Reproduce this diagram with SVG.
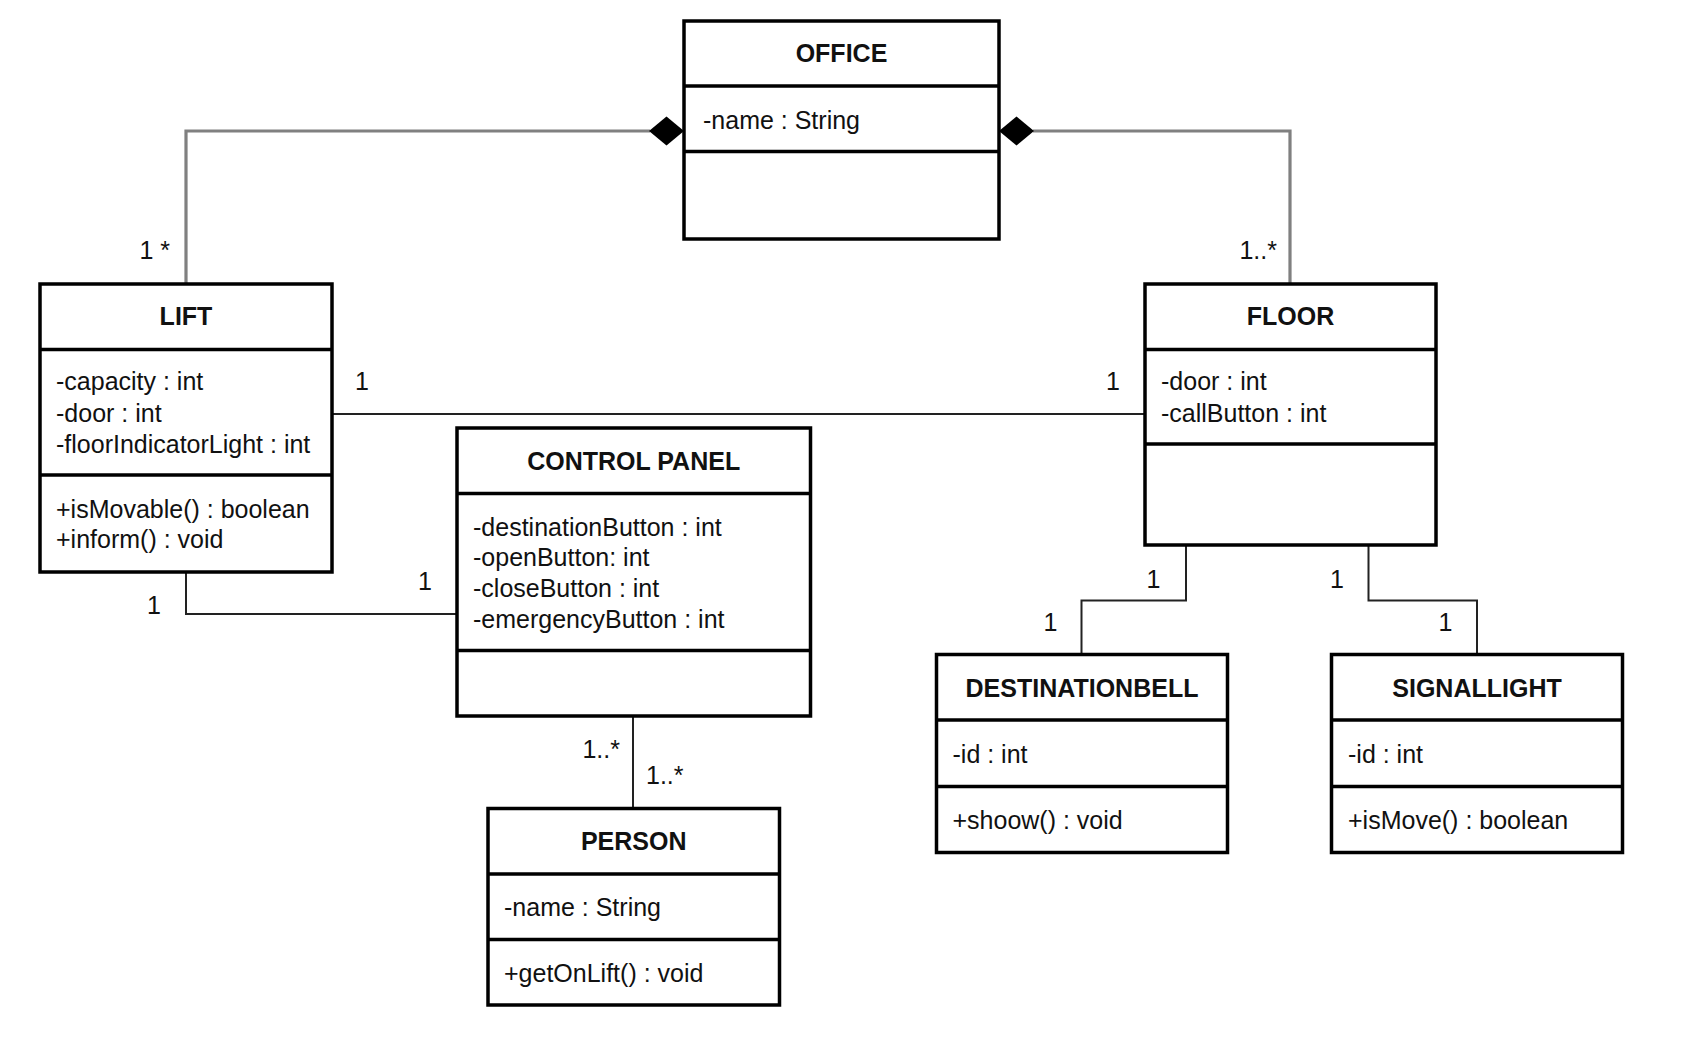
<svg xmlns="http://www.w3.org/2000/svg" width="1684" height="1038" viewBox="0 0 1684 1038">
<style>
.box{fill:#fff;stroke:#000;stroke-width:3.5}
.div{stroke:#000;stroke-width:3.5}
.t{font-family:"Liberation Sans",Arial,sans-serif;font-size:25px;fill:#111}
.h{font-family:"Liberation Sans",Arial,sans-serif;font-size:25px;font-weight:bold;fill:#111;text-anchor:middle}
.comp{fill:none;stroke:#808080;stroke-width:3.2}
.assoc{fill:none;stroke:#222;stroke-width:2}
.m{font-family:"Liberation Sans",Arial,sans-serif;font-size:25px;fill:#111}
.dia{fill:#000}
</style>
<rect width="1684" height="1038" fill="#fff"/>
<g id="connectors">
<polyline class="comp" points="650,131 186,131 186,284"/>
<polygon class="dia" points="649,131 666.5,116.5 684,131 666.5,145.5"/>
<polyline class="comp" points="1033,131 1290,131 1290,284"/>
<polygon class="dia" points="999,131 1016.5,116.5 1034,131 1016.5,145.5"/>
<line class="assoc" x1="332" y1="414" x2="1145" y2="414"/>
<polyline class="assoc" points="186,572 186,614 457,614"/>
<line class="assoc" x1="633" y1="716" x2="633" y2="808"/>
<polyline class="assoc" points="1186,545 1186,600.5 1081.5,600.5 1081.5,654.5"/>
<polyline class="assoc" points="1368.5,545 1368.5,600.5 1477,600.5 1477,654.5"/>
<text class="m" x="170" y="259" text-anchor="end">1 *</text>
<text class="m" x="1277" y="259" text-anchor="end">1..*</text>
<text class="m" x="362" y="390" text-anchor="middle">1</text>
<text class="m" x="1113" y="390" text-anchor="middle">1</text>
<text class="m" x="154" y="614" text-anchor="middle">1</text>
<text class="m" x="425" y="590" text-anchor="middle">1</text>
<text class="m" x="620" y="758" text-anchor="end">1..*</text>
<text class="m" x="646" y="784">1..*</text>
<text class="m" x="1153.5" y="588" text-anchor="middle">1</text>
<text class="m" x="1050.5" y="631" text-anchor="middle">1</text>
<text class="m" x="1337" y="588" text-anchor="middle">1</text>
<text class="m" x="1445.5" y="631" text-anchor="middle">1</text>
</g>
<g id="office">
<rect class="box" x="684" y="21" width="315" height="218"/>
<line class="div" x1="684" y1="86" x2="999" y2="86"/>
<line class="div" x1="684" y1="151.5" x2="999" y2="151.5"/>
<text class="h" x="841.5" y="62">OFFICE</text>
<text class="t" x="703" y="129">-name : String</text>
</g>
<g id="lift">
<rect class="box" x="40" y="284" width="292" height="288"/>
<line class="div" x1="40" y1="349.5" x2="332" y2="349.5"/>
<line class="div" x1="40" y1="475" x2="332" y2="475"/>
<text class="h" x="186" y="325">LIFT</text>
<text class="t" x="56" y="390">-capacity : int</text>
<text class="t" x="56" y="421.5">-door : int</text>
<text class="t" x="56" y="452.5">-floorIndicatorLight : int</text>
<text class="t" x="56" y="518">+isMovable() : boolean</text>
<text class="t" x="56" y="548">+inform() : void</text>
</g>
<g id="floor">
<rect class="box" x="1145" y="284" width="291" height="261"/>
<line class="div" x1="1145" y1="349.5" x2="1436" y2="349.5"/>
<line class="div" x1="1145" y1="444" x2="1436" y2="444"/>
<text class="h" x="1290.5" y="325">FLOOR</text>
<text class="t" x="1161" y="390">-door : int</text>
<text class="t" x="1161" y="421.5">-callButton : int</text>
</g>
<g id="controlpanel">
<rect class="box" x="457" y="428" width="353.5" height="288"/>
<line class="div" x1="457" y1="493.5" x2="810.5" y2="493.5"/>
<line class="div" x1="457" y1="650.5" x2="810.5" y2="650.5"/>
<text class="h" x="633.7" y="470">CONTROL PANEL</text>
<text class="t" x="473" y="535.5">-destinationButton : int</text>
<text class="t" x="473" y="565.5">-openButton: int</text>
<text class="t" x="473" y="596.5">-closeButton : int</text>
<text class="t" x="473" y="628">-emergencyButton : int</text>
</g>
<g id="person">
<rect class="box" x="488" y="808.5" width="291.5" height="196.5"/>
<line class="div" x1="488" y1="874" x2="779.5" y2="874"/>
<line class="div" x1="488" y1="939.5" x2="779.5" y2="939.5"/>
<text class="h" x="633.7" y="849.5">PERSON</text>
<text class="t" x="504" y="916">-name : String</text>
<text class="t" x="504" y="981.5">+getOnLift() : void</text>
</g>
<g id="destinationbell">
<rect class="box" x="936.5" y="654.5" width="291" height="198"/>
<line class="div" x1="936.5" y1="720" x2="1227.5" y2="720"/>
<line class="div" x1="936.5" y1="786.5" x2="1227.5" y2="786.5"/>
<text class="h" x="1082" y="696.5">DESTINATIONBELL</text>
<text class="t" x="952.5" y="763">-id : int</text>
<text class="t" x="952.5" y="828.5">+shoow() : void</text>
</g>
<g id="signallight">
<rect class="box" x="1331.5" y="654.5" width="291" height="198"/>
<line class="div" x1="1331.5" y1="720" x2="1622.5" y2="720"/>
<line class="div" x1="1331.5" y1="786.5" x2="1622.5" y2="786.5"/>
<text class="h" x="1477" y="696.5">SIGNALLIGHT</text>
<text class="t" x="1348" y="763">-id : int</text>
<text class="t" x="1348" y="828.5">+isMove() : boolean</text>
</g>
</svg>
